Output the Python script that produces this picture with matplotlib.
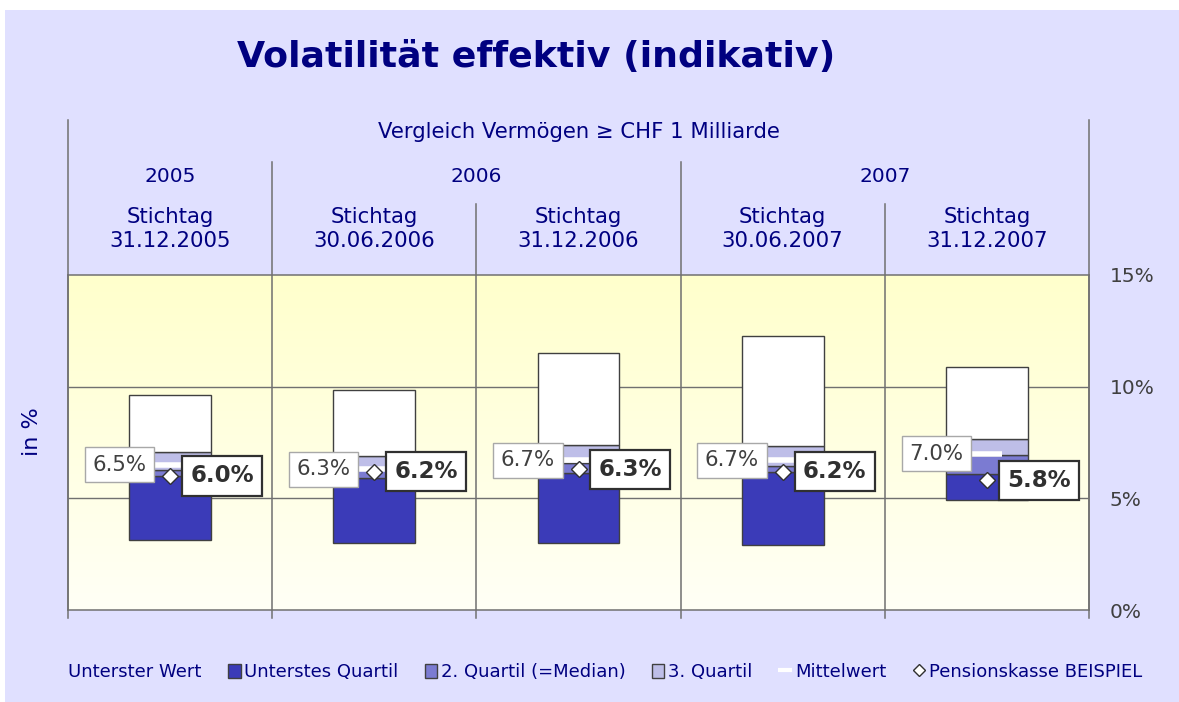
import numpy as np
import matplotlib
matplotlib.use("Agg")
import matplotlib.pyplot as plt
from matplotlib.patches import Rectangle, Patch
from matplotlib.lines import Line2D
from matplotlib.colors import LinearSegmentedColormap
import matplotlib.transforms as mtransforms

plt.rcParams['font.family'] = ['DejaVu Sans']

# ---- data ----
stichtage = ["Stichtag\n31.12.2005", "Stichtag\n30.06.2006", "Stichtag\n31.12.2006",
             "Stichtag\n30.06.2007", "Stichtag\n31.12.2007"]
years = ["2005", "2006", "2007"]
minimum = [3.13, 3.00, 3.00, 2.91, 4.93]
q1 = [6.00, 5.90, 6.15, 6.20, 6.09]
median = [6.27, 6.31, 6.58, 6.45, 6.94]
q3 = [7.08, 6.90, 7.39, 7.34, 7.64]
maximum = [9.63, 9.85, 11.50, 12.27, 10.88]
mean = [6.5, 6.3, 6.7, 6.7, 7.0]
pk = [6.0, 6.2, 6.3, 6.2, 5.8]
yticks = [0, 5, 10, 15]
ytick_labels = ["0%", "5%", "10%", "15%"]
legend_labels = ["Unterster Wert", "Unterstes Quartil", "2. Quartil (=Median)",
                 "3. Quartil", "Mittelwert", "Pensionskasse BEISPIEL"]

NAVY = "#000080"
BG = "#E0E0FF"
DARK = "#3B3BB8"
MED = "#7B7BD2"
LIGHT = "#BEBEE8"
EDGE = "#404040"
GRID = "#707070"

W, H = 1179, 702
fig = plt.figure(figsize=(W / 100, H / 100), dpi=100)
fig.patch.set_facecolor("white")
fig.patches.append(Rectangle((5 / W, 0), 1 - 5 / W, 1 - 10 / H, transform=fig.transFigure,
                             facecolor=BG, edgecolor="none", zorder=-10))

ax = fig.add_axes([68 / W, (H - 610) / H, (1089 - 68) / W, (610 - 275) / H])
ax.set_facecolor("none")

# gradient background of the plot area
cmap = LinearSegmentedColormap.from_list("g", ["#FFFFF6", "#FFFFCC"])
grad = np.linspace(0, 1, 256).reshape(-1, 1)
ax.imshow(grad, extent=[0, 1, 0, 1], transform=ax.transAxes, origin="lower",
          cmap=cmap, aspect="auto", zorder=0)

x = np.arange(len(stichtage))
mn = np.array(minimum); a1 = np.array(q1); md = np.array(median)
a3 = np.array(q3); mx = np.array(maximum)
bw = 0.4
ax.bar(x, a1 - mn, bw, bottom=mn, color=DARK, edgecolor=EDGE, lw=1, zorder=3)
ax.bar(x, md - a1, bw, bottom=a1, color=MED, edgecolor=EDGE, lw=1, zorder=3)
ax.bar(x, a3 - md, bw, bottom=md, color=LIGHT, edgecolor=EDGE, lw=1, zorder=3)
ax.bar(x, mx - a3, bw, bottom=a3, color="white", edgecolor=EDGE, lw=1, zorder=3)

ax.plot(x, mean, ls="none", marker="_", ms=21, mew=4, color="white", zorder=4)
ax.plot(x, pk, ls="none", marker="D", ms=8.5, mfc="white", mec="#303030", mew=1, zorder=5)

for xi, m, p in zip(x, mean, pk):
    ax.annotate(f"{m:.1f}%", (xi, m), xytext=(-17, 0), textcoords="offset points",
                ha="right", va="center", fontsize=15.3, color="#404040", zorder=6,
                bbox=dict(boxstyle="square,pad=0.36", fc="white", ec="#A8A8A8", lw=1))
    ax.annotate(f"{p:.1f}%", (xi, p), xytext=(14.5, 0), textcoords="offset points",
                ha="left", va="center", fontsize=16.5, fontweight="bold", color="#303030",
                zorder=6,
                bbox=dict(boxstyle="square,pad=0.36", fc="white", ec="#303030", lw=1.6))

ax.set_xlim(-0.5, len(stichtage) - 0.5)
ax.set_ylim(0, 15)
ax.set_xticks([])
ax.yaxis.tick_right()
ax.set_yticks(yticks)
ax.set_yticklabels(ytick_labels)
ax.tick_params(axis="y", length=0, pad=15, labelsize=14.5, labelcolor="#404040")
for y in yticks[1:-1]:
    ax.axhline(y, color=GRID, lw=1, zorder=1)
for s in ax.spines.values():
    s.set_color(GRID)
    s.set_linewidth(1.1)
    s.set_zorder(2)

# header lines and texts
tr = mtransforms.blended_transform_factory(ax.transData, ax.transAxes)
def ay(py):
    return (610 - py) / 335.0
bounds = np.arange(len(stichtage) + 1) - 0.5
tops = [120, 162, 204, 162, 204, 120]
for b, t in zip(bounds, tops):
    ax.plot([b, b], [ay(618), ay(t)], transform=tr, color=GRID, lw=1.1, clip_on=False, zorder=2)

ax.text(np.mean(x), ay(132), "Vergleich Vermögen ≥ CHF 1 Milliarde", transform=tr,
        ha="center", va="center", fontsize=15.2, color=NAVY)
year_pos = [0, 1.5, 3.5]
for yp, yl in zip(year_pos, years):
    ax.text(yp, ay(176), yl, transform=tr, ha="center", va="center", fontsize=14.5, color=NAVY)
for xi, s in zip(x, stichtage):
    ax.text(xi, ay(229), s, transform=tr, ha="center", va="center", fontsize=15.3,
            color=NAVY, linespacing=1.2)

fig.text(536 / W, 1 - 57 / H, "Volatilität effektiv (indikativ)", ha="center", va="center",
         fontsize=26.2, fontweight="bold", color=NAVY)
fig.text(32 / W, 1 - 432 / H, "in %", ha="center", va="center", rotation=90,
         fontsize=16, color=NAVY)

handles = [
    Patch(facecolor="none", edgecolor="none"),
    Patch(facecolor=DARK, edgecolor=EDGE),
    Patch(facecolor=MED, edgecolor=EDGE),
    Patch(facecolor=LIGHT, edgecolor=EDGE),
    Line2D([], [], ls="none", marker="_", ms=10, mew=3, color="white"),
    Line2D([], [], ls="none", marker="D", ms=6, mfc="white", mec="#303030", mew=1),
]
leg = fig.legend(handles, legend_labels, loc="center", bbox_to_anchor=(597 / W, 1 - 672 / H),
                 ncol=6, frameon=False, fontsize=13, handlelength=0.7, handleheight=0.8,
                 handletextpad=0.2, columnspacing=1.45, labelcolor=NAVY)

fig.savefig("out.png", dpi=100, facecolor=fig.get_facecolor())
